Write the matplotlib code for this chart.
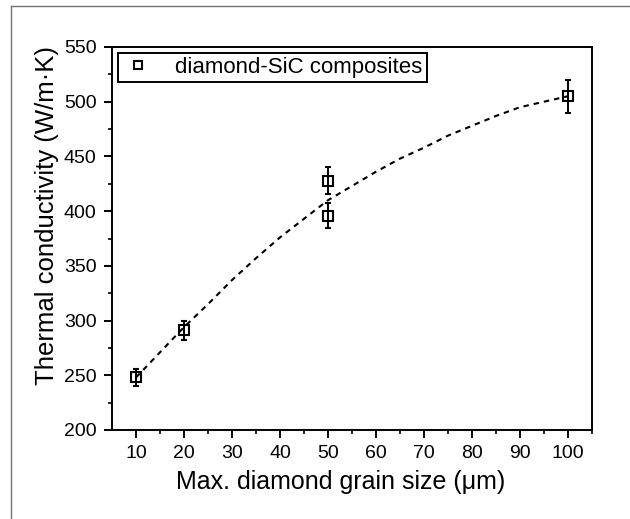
import matplotlib
matplotlib.use('Agg')
import matplotlib.pyplot as plt
from matplotlib.lines import Line2D

plt.rcParams['font.family'] = ['Liberation Sans', 'DejaVu Sans']

# =============================================================================
# Data
# =============================================================================

# Measured points
grain_size = [10, 20, 50, 50, 100]
conductivity = [248, 291, 428, 396, 505]
conductivity_err = [8, 9, 12.5, 11, 15]

# Dashed guide curve
curve_x = [10, 15, 20, 25, 30, 35, 40, 45, 50, 55,
           60, 65, 70, 75, 80, 85, 90, 95, 100]
curve_y = [248, 271, 294, 315, 337, 357, 376, 393, 410, 423,
           436, 448, 458, 469, 478, 487, 495, 500, 505]

x_ticks = [10, 20, 30, 40, 50, 60, 70, 80, 90, 100]
y_ticks = [200, 250, 300, 350, 400, 450, 500, 550]

# =============================================================================
# Figure
# =============================================================================

fig = plt.figure(figsize=[6.3, 5.19], dpi=100)
ax = fig.add_axes([112 / 630, 1 - 430 / 519, 480 / 630, 383 / 519])

# grey frame at the top and left of the picture
fig.add_artist(Line2D([11 / 630, 11 / 630], [0, 1 - 6 / 519],
                      color='0.45', lw=1.0, transform=fig.transFigure))
fig.add_artist(Line2D([11 / 630, 1], [1 - 6 / 519, 1 - 6 / 519],
                      color='0.45', lw=1.0, transform=fig.transFigure))

ax.plot(curve_x, curve_y, color='k', lw=1.5, dashes=(2.6, 2.4), zorder=2)

ax.errorbar(grain_size, conductivity, yerr=conductivity_err,
            fmt='s', ms=7.8, mfc='none', mec='k', mew=1.5,
            ecolor='k', elinewidth=1.4, capsize=2.5, capthick=1.5,
            zorder=3)

ax.set_xlim(5, 105)
ax.set_ylim(200, 550)
ax.set_xticks(x_ticks)
ax.set_yticks(y_ticks)
ax.set_xticks([15, 25, 35, 45, 55, 65, 75, 85, 95, 105], minor=True)
ax.set_yticks([225, 275, 325, 375, 425, 475, 525], minor=True)

ax.tick_params(which='major', direction='out', length=6, width=1.4,
               labelsize=14, pad=5, top=False, right=False)
ax.tick_params(which='minor', direction='out', length=3, width=1.2,
               top=False, right=False)
for sp in ax.spines.values():
    sp.set_linewidth(1.4)

ax.set_xlabel('Max. diamond grain size (μm)', fontsize=18)
ax.set_ylabel('Thermal conductivity (W/m·K)', fontsize=18.5)
# label positions as in the reference (slightly off-centre)
ax.xaxis.set_label_coords(0.477, -0.105)
ax.yaxis.set_label_coords(-0.11, 0.56)

handle = Line2D([], [], ls='none', marker='s', ms=5.5, mfc='none',
                mec='k', mew=1.5)
leg = ax.legend([handle], ['diamond-SiC composites'], loc='upper left',
                fontsize=16, frameon=True, fancybox=False, framealpha=1,
                edgecolor='k', borderpad=0.2, handlelength=1.4,
                handletextpad=1.0, borderaxespad=0.25)
leg.get_frame().set_linewidth(1.4)

fig.savefig('out.png', dpi=100)
